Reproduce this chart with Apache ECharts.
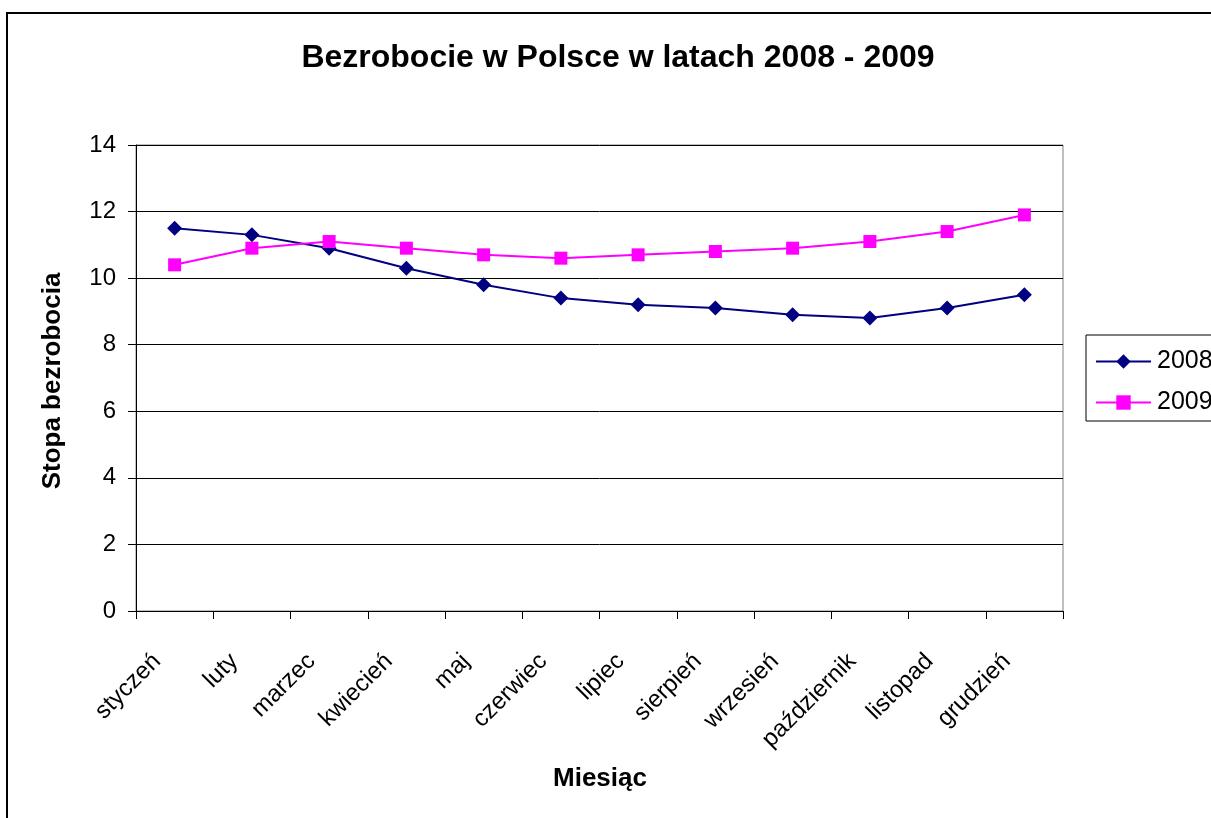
<!DOCTYPE html>
<html>
<head>
<meta charset="utf-8">
<script src="https://cdn.jsdelivr.net/npm/echarts@6/dist/echarts.min.js"></script>
<style>
  html, body { margin: 0; padding: 0; background: #fff; }
  #chart { width: 1211px; height: 818px; }
</style>
</head>
<body>
<div id="chart"></div>
<script>
// Miesięczna stopa bezrobocia w Polsce (%)
const months = ['styczeń', 'luty', 'marzec', 'kwiecień', 'maj', 'czerwiec',
                'lipiec', 'sierpień', 'wrzesień', 'październik', 'listopad', 'grudzień'];
const rate2008 = [11.5, 11.3, 10.9, 10.3, 9.8, 9.4, 9.2, 9.1, 8.9, 8.8, 9.1, 9.5];
const rate2009 = [10.4, 10.9, 11.1, 10.9, 10.7, 10.6, 10.7, 10.8, 10.9, 11.1, 11.4, 11.9];
const yTicks = [0, 2, 4, 6, 8, 10, 12, 14];

const FONT = 'Liberation Sans, Arial, sans-serif';

const chart = echarts.init(document.getElementById('chart'), null, { renderer: 'canvas' });

chart.setOption({
  backgroundColor: '#ffffff',
  animation: false,
  title: {
    text: 'Bezrobocie w Polsce w latach 2008 - 2009',
    left: 613,
    top: 37,
    textAlign: 'center',
    textStyle: { fontFamily: FONT, fontSize: 32, fontWeight: 'bold', color: '#000' }
  },
  legend: {
    data: ['2008', '2009'],
    orient: 'vertical',
    left: 1086,
    top: 335,
    padding: [14, 40, 6, 9],
    itemGap: 16,
    itemWidth: 55,
    itemHeight: 18,
    borderColor: '#000',
    borderWidth: 1,
    backgroundColor: '#fff',
    textStyle: { fontFamily: FONT, fontSize: 25, color: '#000', padding: [0, 0, 0, 1] }
  },
  grid: {
    left: 136,
    top: 145,
    right: 148,
    bottom: 207,
    show: true,
    borderColor: '#808080',
    borderWidth: 1,
    outerBoundsMode: 'none'
  },
  xAxis: {
    type: 'category',
    data: months,
    boundaryGap: true,
    axisLine: { lineStyle: { color: '#000', width: 1 } },
    axisTick: { show: true, alignWithLabel: false, length: 8, lineStyle: { color: '#000' } },
    axisLabel: {
      rotate: 45,
      interval: 0,
      margin: 29,
      padding: [0, 25, 0, 0],
      fontFamily: FONT,
      fontSize: 24,
      color: '#000'
    },
    splitLine: { show: false }
  },
  yAxis: {
    type: 'value',
    min: yTicks[0],
    max: yTicks[yTicks.length - 1],
    interval: 2,
    axisLine: { show: true, lineStyle: { color: '#000', width: 1 } },
    axisTick: { show: true, length: 8, lineStyle: { color: '#000' } },
    axisLabel: { margin: 20, fontFamily: FONT, fontSize: 24, color: '#000' },
    splitLine: { show: true, lineStyle: { color: '#000', width: 1 } }
  },
  series: [
    {
      name: '2008',
      type: 'line',
      data: rate2008,
      symbol: 'diamond',
      symbolSize: 15,
      lineStyle: { color: '#000080', width: 2 },
      itemStyle: { color: '#000080' }
    },
    {
      name: '2009',
      type: 'line',
      data: rate2009,
      symbol: 'rect',
      symbolSize: 13,
      lineStyle: { color: '#ff00ff', width: 2 },
      itemStyle: { color: '#ff00ff' }
    }
  ],
  graphic: [
    {
      type: 'rect',
      shape: { x: 7, y: 13, width: 1300, height: 900 },
      style: { fill: null, stroke: '#000', lineWidth: 2 },
      silent: true,
      z: 100
    },
    {
      type: 'text',
      x: 53,
      y: 381,
      rotation: Math.PI / 2,
      style: {
        text: 'Stopa bezrobocia',
        fontFamily: FONT,
        fontSize: 26,
        fontWeight: 'bold',
        fill: '#000',
        align: 'center',
        verticalAlign: 'middle'
      }
    },
    {
      type: 'text',
      x: 600,
      y: 779,
      style: {
        text: 'Miesiąc',
        fontFamily: FONT,
        fontSize: 26,
        fontWeight: 'bold',
        fill: '#000',
        align: 'center',
        verticalAlign: 'middle'
      }
    }
  ]
});
</script>
</body>
</html>
